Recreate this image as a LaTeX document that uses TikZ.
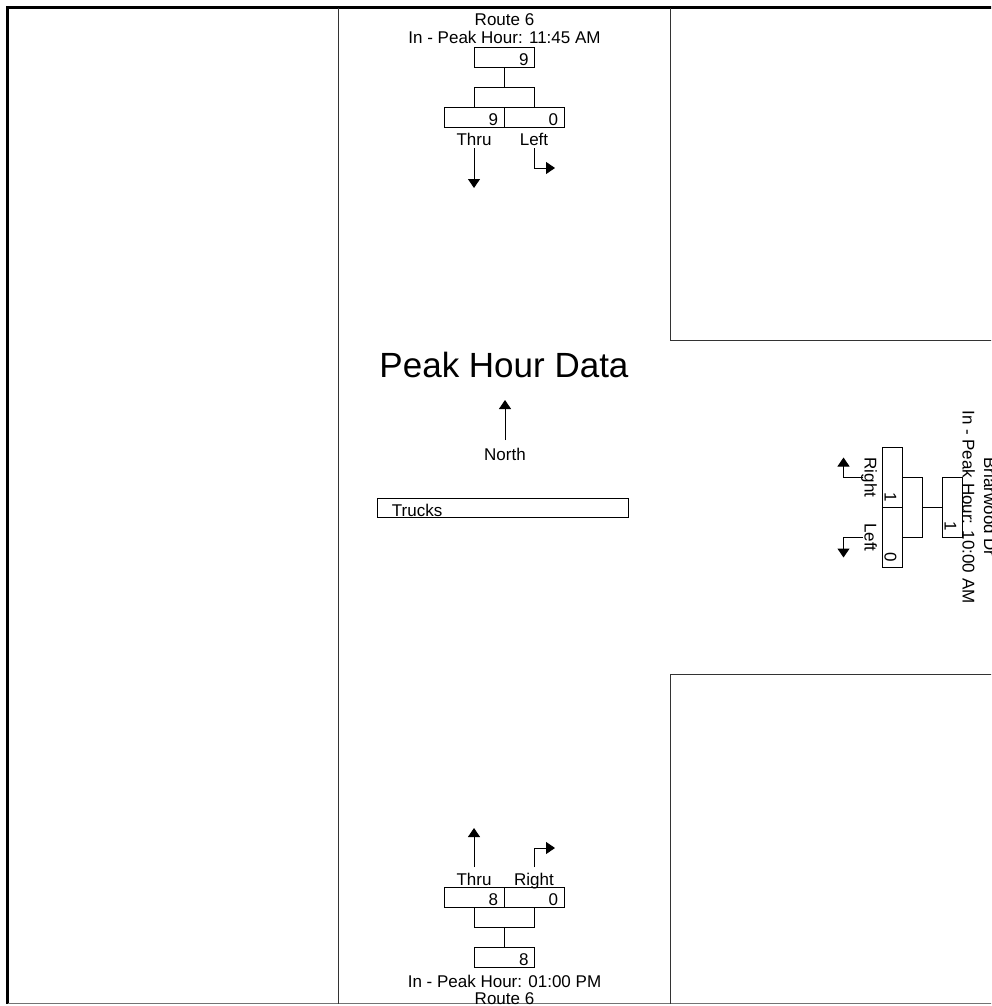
\documentclass[tikz,border=0pt]{standalone}
\usepackage{fontspec}
\setmainfont{Liberation Sans}
\usetikzlibrary{arrows.meta}
\begin{document}
\begin{tikzpicture}[x=1pt,y=-1pt,
  lbl/.style={font=\fontsize{17}{20}\selectfont, inner sep=0pt, anchor=base},
  cnt/.style={draw, line width=1pt, font=\fontsize{17}{20}\selectfont, text width=48pt, align=right, inner xsep=6pt, inner ysep=0pt, minimum height=20pt, text height=16pt, text depth=0pt},
  arr/.style={line width=1pt, -{Triangle[width=12pt,length=9pt]}},
  brk/.style={line width=1pt},
  frameline/.style={line width=3pt},
  road/.style={line width=1.4pt, black!80}]
\clip (0,0) rectangle (991,1006);
% frame and road edges
\draw[frameline] (1000,7.7) -- (7.7,7.7) -- (7.7,1003.5);
\draw[line width=1pt, black!55] (7.7,1003.7) -- (1000,1003.7);
\draw[road] (338.5,7.7) -- (338.5,1003.5);
\draw[road] (670.7,7.7) -- (670.7,340.7) -- (1000,340.7);
\draw[road] (670.7,1003.5) -- (670.7,674.3) -- (1000,674.3);

% ---- top approach (Route 6 southbound)
\node[lbl] (troute) at (504.5,25.7) {Route 6};
\node[lbl] (tpeak) at (504.5,43.3) {In - Peak Hour: 11:45 AM};
\node[cnt] (tin) at (504.5,57.7) {9};
\coordinate (tb) at (504.5,87.7);
\node[cnt] (tthru) at (474,117.7) {9};
\node[cnt] (tleft) at (534,117.7) {0};
\draw[brk] (tin.south) -- (tb);
\draw[brk] (tthru.north) |- (tb) -| (tleft.north);
\node[lbl] (tthrul) at (474,146) {Thru};
\node[lbl] (tleftl) at (534,146) {Left};
\draw[arr] ([yshift=-2pt]tthrul.base) -- ++(0,40);
\draw[arr] ([yshift=-2pt]tleftl.base) |- ++(21,20);

% ---- bottom approach (Route 6 northbound)
\node[cnt] (bin) at (504.5,957) {8};
\coordinate (bb) at (504.5,927.5);
\node[cnt] (bthru) at (474,897) {8};
\node[cnt] (bright) at (534,897) {0};
\draw[brk] (bin.north) -- (bb);
\draw[brk] (bthru.south) |- (bb) -| (bright.south);
\node[lbl] (bthrul) at (474,885) {Thru};
\node[lbl] (brightl) at (534,885) {Right};
\draw[arr] ([yshift=18pt]bthrul.base) -- ++(0,-39);
\draw[arr] ([yshift=18pt]brightl.base) |- ++(21,-19);
\node[lbl] (bpeak) at (504.5,987) {In - Peak Hour: 01:00 PM};
\node[lbl] (broute) at (504.5,1004) {Route 6};

% ---- right approach (Briarwood Dr westbound)
\node[lbl, rotate=-90] (rroute) at (984,507) {Briarwood Dr};
\node[lbl, rotate=-90] (rpeak) at (962.5,507) {In - Peak Hour: 10:00 AM};
\node[cnt, rotate=-90] (rin) at (952.5,507.2) {1};
\coordinate (rb) at (922.3,507.2);
\node[cnt, rotate=-90] (rright) at (892.5,477.5) {1};
\node[cnt, rotate=-90] (rleft) at (892.5,537.5) {0};
\draw[brk] (rin.south) -- (rb);
\draw[brk] (rright.north) -| (rb) |- (rleft.north);
\node[lbl, rotate=-90] (rrightl) at (864.5,477.5) {Right};
\node[lbl, rotate=-90] (rleftl) at (864.5,537.5) {Left};
\draw[arr] ([xshift=-2pt]rrightl.base) -| ++(-19,-20);
\draw[arr] ([xshift=-2pt]rleftl.base) -| ++(-19,20);

% ---- legend
\node[inner sep=0pt, anchor=base, font=\fontsize{35}{40}\selectfont] (title) at (504,377) {Peak Hour Data};
\node[lbl] (north) at (505,460) {North};
\draw[arr] ([yshift=20pt]north.base) -- ++(0,-40);
\node[draw, line width=1pt, minimum width=251pt, minimum height=19pt, inner sep=0pt] (truckbox) at (502.5,507.5) {};
\node[lbl, anchor=base west] (trucks) at (391.7,516.3) {Trucks};
\end{tikzpicture}
\end{document}
